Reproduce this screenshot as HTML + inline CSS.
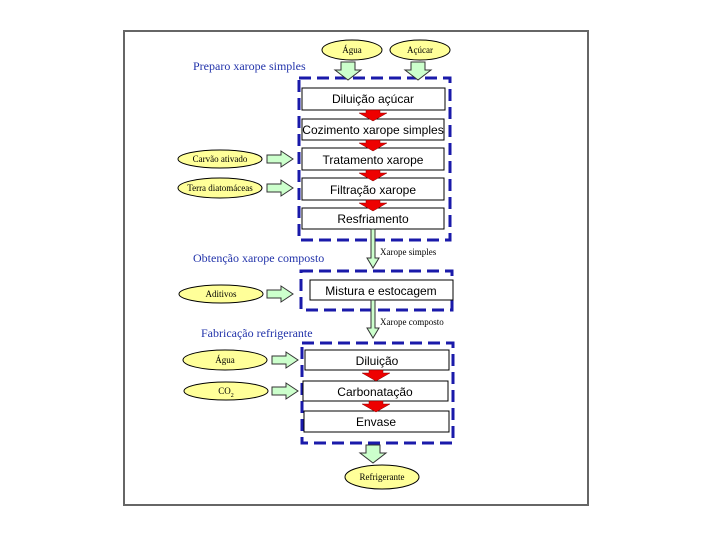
<!DOCTYPE html>
<html><head><meta charset="utf-8"><style>body{margin:0;background:#fff}svg{display:block}</style></head><body>
<svg width="720" height="540" viewBox="0 0 720 540" xmlns="http://www.w3.org/2000/svg" font-family="Liberation Serif, serif">
<defs>
<g id="gd"><polygon points="-7,0 7,0 7,8 13,8 0,18 -13,8 -7,8" fill="#ccffcc" stroke="#333" stroke-width="1"/></g>
<g id="gr"><polygon points="0,-4 14,-4 14,-8 26,0 14,8 14,4 0,4" fill="#ccffcc" stroke="#333" stroke-width="1"/></g>
<g id="rd"><polygon points="-7,0 7,0 7,3 14,3 0,11 -14,3 -7,3" fill="#ee0000" stroke="#800" stroke-width="0.5"/></g>
</defs>
<rect x="124" y="31" width="464" height="474" fill="#fff" stroke="#666" stroke-width="2"/>
<g fill="#2233aa" font-size="12">
<text x="193" y="70">Preparo xarope simples</text>
<text x="193" y="262">Obtenção xarope composto</text>
<text x="201" y="337">Fabricação refrigerante</text>
</g>
<g fill="none" stroke="#1a1aaa" stroke-width="3" stroke-dasharray="12,6">
<rect x="299" y="78" width="151" height="162"/>
<rect x="301" y="271" width="151" height="39"/>
<rect x="302" y="343" width="151" height="100"/>
</g>
<g fill="#ffff99" stroke="#000" stroke-width="1">
<ellipse cx="352" cy="50" rx="30" ry="10"/>
<ellipse cx="420" cy="50" rx="30" ry="10"/>
<ellipse cx="220" cy="159" rx="42" ry="9"/>
<ellipse cx="220" cy="188" rx="42" ry="10"/>
<ellipse cx="221" cy="294" rx="42" ry="9"/>
<ellipse cx="225" cy="360" rx="42" ry="10"/>
<ellipse cx="226" cy="391" rx="42" ry="9"/>
<ellipse cx="382" cy="477" rx="37" ry="12"/>
</g>
<g font-size="9" text-anchor="middle" fill="#000">
<text x="352" y="53">Água</text><text x="420" y="53">Açúcar</text>
<text x="220" y="162">Carvão ativado</text><text x="220" y="191">Terra diatomáceas</text>
<text x="221" y="297">Aditivos</text><text x="225" y="363">Água</text>
<text x="226" y="394">CO<tspan font-size="6" dy="3">2</tspan></text>
<text x="382" y="480">Refrigerante</text>
</g>
<use href="#gd" x="348" y="62"/><use href="#gd" x="418" y="62"/>
<use href="#gr" x="267" y="159"/><use href="#gr" x="267" y="188"/>
<use href="#gr" x="267" y="294"/><use href="#gr" x="272" y="360"/><use href="#gr" x="272" y="391"/>
<use href="#gd" x="373" y="445"/>
<g fill="#fff" stroke="#000" stroke-width="1">
<rect x="302" y="88" width="143" height="22"/>
<rect x="302" y="119" width="142" height="21"/>
<rect x="302" y="148" width="142" height="22"/>
<rect x="302" y="178" width="142" height="22"/>
<rect x="302" y="208" width="142" height="21"/>
<rect x="310" y="280" width="143" height="20"/>
<rect x="305" y="350" width="144" height="20"/>
<rect x="303" y="381" width="145" height="20"/>
<rect x="304" y="411" width="145" height="21"/>
</g>
<use href="#rd" x="373" y="110"/><use href="#rd" x="373" y="140"/><use href="#rd" x="373" y="170"/><use href="#rd" x="373" y="200"/>
<use href="#rd" x="376" y="370"/><use href="#rd" x="376" y="401"/>
<g fill="#ccffcc" stroke="#333" stroke-width="1">
<polygon points="371,229 375,229 375,258 379,258 373,268 367,258 371,258"/>
<polygon points="371,300 375,300 375,328 379,328 373,338 367,328 371,328"/>
</g>
<g font-family="Liberation Sans, sans-serif" font-size="12" text-anchor="middle" fill="#000">
<text x="373" y="103">Diluição açúcar</text>
<text x="373" y="134">Cozimento xarope simples</text>
<text x="373" y="164">Tratamento xarope</text>
<text x="373" y="194">Filtração xarope</text>
<text x="373" y="223">Resfriamento</text>
<text x="381" y="295">Mistura e estocagem</text>
<text x="377" y="365">Diluição</text>
<text x="375" y="396">Carbonatação</text>
<text x="376" y="426">Envase</text>
</g>
<g font-size="9" fill="#000">
<text x="380" y="255">Xarope simples</text>
<text x="380" y="325">Xarope composto</text>
</g>
</svg>
</body></html>
